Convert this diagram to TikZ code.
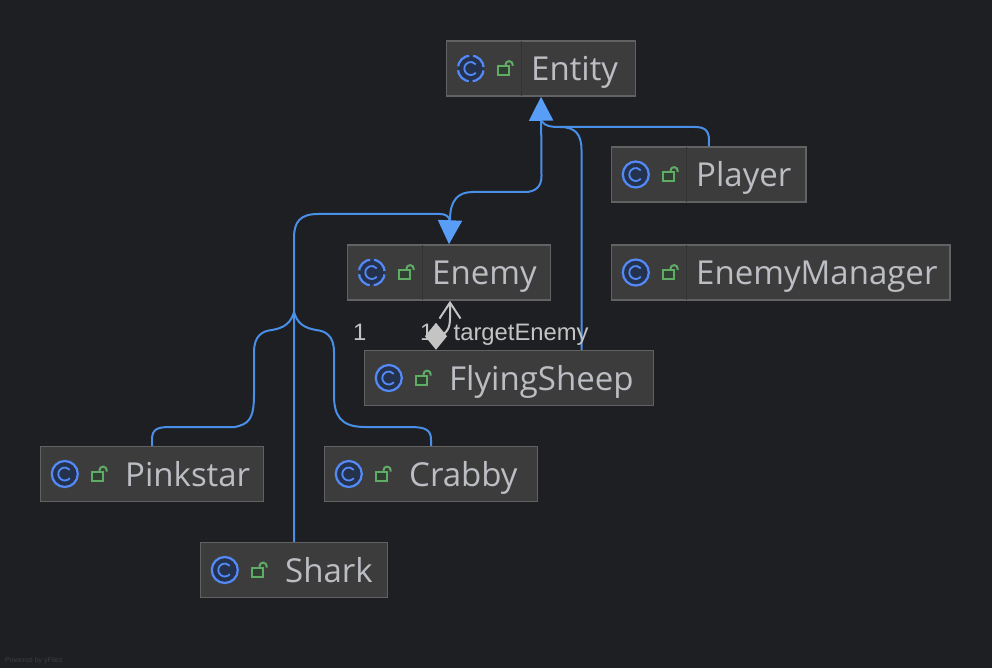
\documentclass[tikz,border=0pt]{standalone}
\usepackage{fontspec}
\setmainfont{Open Sans}
\newfontfamily\labelfont{Liberation Sans}
\usetikzlibrary{arrows.meta}
\definecolor{canvas}{HTML}{1E1F22}
\definecolor{boxfill}{HTML}{3C3C3C}
\definecolor{boxline}{HTML}{626262}
\definecolor{boxdivider}{HTML}{343434}
\definecolor{boxtext}{HTML}{BCBEC4}
\definecolor{edgeblue}{HTML}{4A8FE7}
\definecolor{tipblue}{HTML}{589DF6}
\definecolor{ringblue}{HTML}{548AF7}
\definecolor{ringfill}{HTML}{25324D}
\definecolor{lockgreen}{HTML}{5FAD65}
\definecolor{lockfill}{HTML}{2F3F31}
\definecolor{assocgray}{HTML}{C4C4C4}
\tikzset{
  classbox/.style={draw=boxline,fill=boxfill,line width=1.5pt,inner sep=0pt,minimum height=55pt},
  classname/.style={anchor=base west,inner sep=0pt,text=boxtext,font=\fontsize{33}{33}\selectfont},
  edgelabel/.style={anchor=base west,inner sep=0pt,text=assocgray,font=\labelfont\fontsize{23.8}{24}\selectfont},
  inherit/.style={draw=edgeblue,line width=2pt},
  inherittip/.style={inherit,-{Triangle[width=24pt,length=24pt,color=tipblue]}},
  assoc/.style={draw=assocgray,line width=2pt},
  concretering/.style={draw=ringblue,fill=ringfill,line width=2.2pt},
  abstractring/.style={concretering,dash pattern=on 16.4pt off 4pt,dash phase=18.4pt}
}
\begin{document}
\begin{tikzpicture}[x=1pt,y=-1pt]
  \useasboundingbox[fill=canvas] (0,0) rectangle (992,668);
  % left edge / right edge / centre height of every class
  \foreach \id/\classlabel/\lft/\rgt/\cy/\ringstyle in {
      entity/Entity/446.5/635.5/68.5/abstractring,
      player/Player/611.5/806/174.5/concretering,
      enemy/Enemy/347.5/550.5/272.5/abstractring,
      enemymanager/EnemyManager/611.5/950/272.5/concretering,
      flyingsheep/FlyingSheep/364.5/653.5/378/concretering,
      pinkstar/Pinkstar/40.5/263.5/474/concretering,
      crabby/Crabby/324.5/537.5/474/concretering,
      shark/Shark/200.5/387.5/570/concretering} {
    \pgfmathsetmacro{\boxwd}{\rgt-\lft}
    \pgfmathsetmacro{\boxmid}{(\rgt+\lft)/2}
    \node[classbox,minimum width=\boxwd pt] (\id) at (\boxmid,\cy) {};
    \node[classname] (\id-name) at (\lft+84.5,\cy+12) {\classlabel};
    \draw[\ringstyle] (\lft+24.3,\cy) circle (13);
    \draw[ringblue,line width=1.8pt] (\lft+24.3,\cy) ++(40:6.5) arc[start angle=40,end angle=320,radius=6.5];
    \draw[lockgreen,fill=lockfill,line width=2pt] (\lft+51,\cy-2.2) rectangle (\lft+62.5,\cy+6.8);
    \draw[lockgreen,line width=2pt] (\lft+59,\cy-2.2) -- (\lft+59,\cy-3.8) arc[start angle=180,end angle=360,radius=3.6] -- (\lft+66.2,\cy-2.5);
  }
  \foreach \boxname in {entity,player,enemy,enemymanager} {
    \draw[boxdivider,line width=1pt] ([xshift=76pt,yshift=-1pt]\boxname.north west) -- ([xshift=76pt,yshift=1pt]\boxname.south west);
  }

  % inheritance
  \draw[inherit] (player.north) -- (709,140) .. controls (709,130) and (704,127) .. (695,127) -- (560,127) .. controls (550,127) and (545,126) .. (541.5,121);
  \draw[inherit] ([xshift=72.5pt]flyingsheep.north) -- (581.5,150) .. controls (581.5,134) and (575,127) .. (560,127);
  \draw[inherittip] (541.5,176) -- (entity.south);
  \draw[inherit] (541.5,176) .. controls (541.5,187) and (535,192) .. (525,192) -- (473,192) .. controls (458,192) and (450,200) .. (450,220);
  \draw[inherit] (shark.north) -- (294,238) .. controls (294,222) and (300,214) .. (318,214) -- (440,214) .. controls (445,214) and (449,216) .. (450,221);
  \draw[inherittip] (450,219) -- (enemy.north);
  \coordinate (enemyjoin) at (294,312);
  \draw[inherit] (pinkstar.north) -- (152,440) .. controls (152,430) and (156,427) .. (170,427) -- (235,427) .. controls (248,424) and (254,420) .. (254,395) -- (254,352) .. controls (254,336) and (262,331) .. (272,330) .. controls (284,328) and (291,323) .. (enemyjoin);
  \draw[inherit] (crabby.north) -- (431,440) .. controls (431,430) and (426,427) .. (410,427) -- (365,427) .. controls (340,427) and (334,415) .. (334,395) -- (334,352) .. controls (334,336) and (326,331) .. (316,330) .. controls (304,328) and (297,323) .. (enemyjoin);

  % association
  \node[edgelabel] (endone) at (353,340) {1};
  \node[edgelabel] (endtwo) at (420,340) {1};
  \node[edgelabel] (rolename) at (453.5,340) {targetEnemy};
  \draw[assoc,{Diamond[width=22pt,length=27pt,fill=assocgray]}-{Straight Barb[width=21pt,length=16pt]}] ([xshift=-73pt]flyingsheep.north) -- (436,338) .. controls (446,334) and (450,330) .. (450,318) -- (enemy.south -| 450,300);

  \node[anchor=base west,inner sep=0pt,text=boxline!45!canvas,font=\labelfont\fontsize{7}{7}\selectfont] (poweredby) at (5,662) {Powered by yFiles};
\end{tikzpicture}
\end{document}
